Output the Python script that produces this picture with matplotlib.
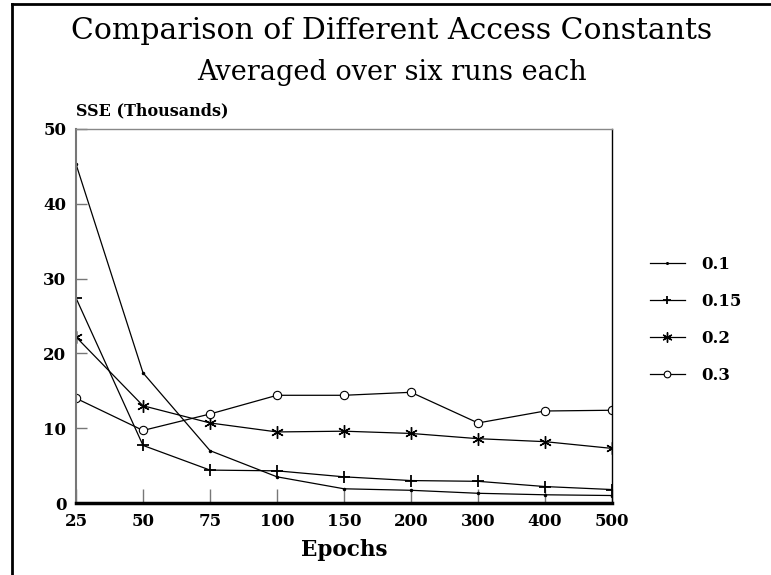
import matplotlib.pyplot as plt
from matplotlib.lines import Line2D

# Data
epochs = ['25', '50', '75', '100', '150', '200', '300', '400', '500']
sse_01 = [45.3, 17.4, 7.0, 3.5, 1.9, 1.7, 1.3, 1.1, 1.0]
sse_015 = [27.4, 7.7, 4.4, 4.3, 3.5, 3.0, 2.9, 2.2, 1.8]
sse_02 = [22.2, 13.0, 10.7, 9.5, 9.6, 9.3, 8.6, 8.2, 7.3]
sse_03 = [14.0, 9.7, 11.9, 14.4, 14.4, 14.8, 10.7, 12.3, 12.4]
labels = ['0.1', '0.15', '0.2', '0.3']

fig = plt.figure(figsize=(7.71, 5.75), dpi=100)
ax = fig.add_axes([0.0986, 0.1252, 0.6952, 0.6505])

x = range(len(epochs))
ax.plot(x, sse_01, color='black', lw=0.9, marker='.', ms=3, label=labels[0])
ax.plot(x, sse_015, color='black', lw=0.9, marker='+', ms=8, mew=1.3, label=labels[1])
ax.plot(x, sse_02, color='black', lw=0.9, marker=(6, 2, 0), ms=9, mew=1.0, label=labels[2])
ax.plot(x, sse_03, color='black', lw=0.9, marker='o', ms=6, mfc='white', mew=0.8, label=labels[3])

ax.set_xlim(0, len(epochs) - 1)
ax.set_ylim(0, 50)
ax.set_xticks(list(x))
ax.set_xticklabels(epochs)
ax.set_yticks([0, 10, 20, 30, 40, 50])

for lab in ax.get_xticklabels() + ax.get_yticklabels():
    lab.set_fontfamily('DejaVu Serif')
    lab.set_fontweight('bold')
    lab.set_fontsize(12)
ax.tick_params(axis='y', direction='in', length=8, width=1, color='#777777', pad=7)
ax.tick_params(axis='x', direction='in', length=10, width=1, color='#777777', pad=7)

ax.spines['left'].set_color('#777777')
ax.spines['left'].set_linewidth(1.5)
ax.spines['top'].set_color('#888888')
ax.spines['top'].set_linewidth(1)
ax.spines['right'].set_color('black')
ax.spines['right'].set_linewidth(1)
ax.spines['bottom'].set_color('black')
ax.spines['bottom'].set_linewidth(2.5)

ax.text(0.0, 1.025, 'SSE (Thousands)', transform=ax.transAxes, ha='left', va='bottom',
        family='DejaVu Serif', weight='bold', size=11.5)
ax.set_xlabel('Epochs', family='DejaVu Serif', weight='bold', size=15.5, labelpad=7)

fig.text(0.508, 0.932, 'Comparison of Different Access Constants', ha='center', va='baseline',
         family='DejaVu Serif', size=21.5)
fig.text(0.508, 0.861, 'Averaged over six runs each', ha='center', va='baseline',
         family='DejaVu Serif', size=19.5)

ax.legend(loc='center left', bbox_to_anchor=(1.07, 0.49), frameon=False,
          borderaxespad=0, borderpad=0, handlelength=2.1, handletextpad=1.0,
          labelspacing=1.2, markerscale=0.8,
          prop=dict(family='DejaVu Serif', weight='bold', size=12))

# figure frame (left and top edges)
fig.add_artist(Line2D([12 / 771, 12 / 771], [0, 1 - 4 / 575], color='black', lw=2,
                      transform=fig.transFigure))
fig.add_artist(Line2D([12 / 771, 1], [1 - 4 / 575, 1 - 4 / 575], color='black', lw=2,
                      transform=fig.transFigure))

plt.savefig('out.png', dpi=100)
